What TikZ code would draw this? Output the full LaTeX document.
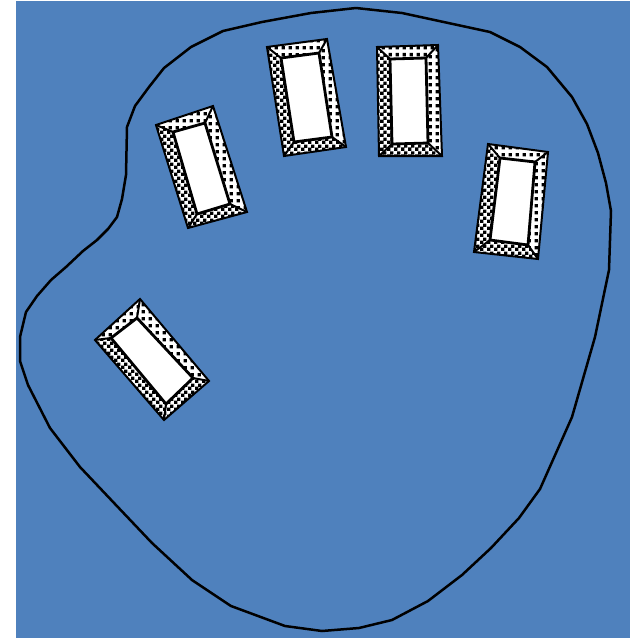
\documentclass[tikz,border=0pt]{standalone}
\usetikzlibrary{patterns}
\pgfdeclarepatternformonly{sqdots}{\pgfpointorigin}{\pgfqpoint{6.67pt}{6.67pt}}{\pgfqpoint{6.67pt}{6.67pt}}{
  \pgfpathrectangle{\pgfqpoint{1.6pt}{1.6pt}}{\pgfqpoint{3.4pt}{3.4pt}}
  \pgfusepath{fill}
}
\pgfdeclarepatternformonly{checks}{\pgfpointorigin}{\pgfqpoint{6.67pt}{6.67pt}}{\pgfqpoint{6.67pt}{6.67pt}}{
  \pgfpathrectangle{\pgfqpoint{0pt}{0pt}}{\pgfqpoint{3.5pt}{3.5pt}}
  \pgfpathrectangle{\pgfqpoint{3.33pt}{3.33pt}}{\pgfqpoint{3.34pt}{3.34pt}}
  \pgfusepath{fill}
}
\definecolor{bgblue}{RGB}{79,129,189}
\tikzset{
  outline/.style={draw, line width=2.5pt, line join=round},
  dotside/.style={fill=white, postaction={pattern=sqdots}},
  checkside/.style={fill=white, postaction={pattern=checks}},
  keyedge/.style={draw, line width=2pt, line join=miter},
  keytop/.style={fill=white, draw, line width=2.8pt, line join=miter}
}
% outer corners #1-#4, inner corners #5-#8
\newcommand{\keybox}[8]{
  \path[dotside] #1 -- #2 -- #6 -- #5 -- cycle;
  \path[dotside] #2 -- #3 -- #7 -- #6 -- cycle;
  \path[checkside] #3 -- #4 -- #8 -- #7 -- cycle;
  \path[checkside] #4 -- #1 -- #5 -- #8 -- cycle;
  \draw[keyedge] #1 -- #2 -- #3 -- #4 -- cycle;
  \draw[keyedge] #1 -- #5;
  \draw[keyedge] #2 -- #6;
  \draw[keyedge] #3 -- #7;
  \draw[keyedge] #4 -- #8;
  \draw[keytop] #5 -- #6 -- #7 -- #8 -- cycle;
}
\begin{document}
\begin{tikzpicture}[x=1pt,y=-1pt]
\useasboundingbox (0,0) rectangle (634,638);
\fill[bgblue] (16,1) rectangle (630,638);
% hand outline
\draw[outline] (356,8) -- (402,13) -- (490,32) -- (520,47) -- (547,67) -- (572,97)
  -- (587,124) -- (598,153) -- (606,183) -- (611,211) -- (609,270) -- (595,337)
  -- (572,417) -- (540,489) -- (519,518) -- (491,548) -- (462,575) -- (428,601)
  -- (392,620) -- (359,628) -- (322,631) -- (285,626) -- (231,606) -- (192,580)
  -- (152,543) -- (115,504) -- (80,467) -- (50,428) -- (28,385) -- (20,361)
  -- (20,337) -- (26,312) -- (37,296) -- (51,280) -- (66,267) -- (83,251)
  -- (97,240) -- (108,229) -- (117,217) -- (122,199) -- (126,175) -- (127,127)
  -- (135,106) -- (149,87) -- (164,68) -- (191,47) -- (223,31) -- (262,22)
  -- (311,13) -- cycle;
% keys
\keybox{(95,340)}{(140,299)}{(209,381)}{(164,420)}{(111,338)}{(137,318)}{(193,378)}{(166,404)}
\keybox{(156,125)}{(213,106)}{(247,212)}{(188,228)}{(173,132)}{(205,123)}{(230,204)}{(197,214)}
\keybox{(267,47)}{(327,39)}{(346,147)}{(284,156)}{(281,58)}{(319,53)}{(332,137)}{(294,142)}
\keybox{(377,47)}{(438,45)}{(442,156)}{(379,156)}{(390,59)}{(426,58)}{(428,143)}{(392,144)}
\keybox{(488,144)}{(548,152)}{(538,259)}{(474,252)}{(500,158)}{(535,162)}{(528,245)}{(490,240)}
\end{tikzpicture}
\end{document}
